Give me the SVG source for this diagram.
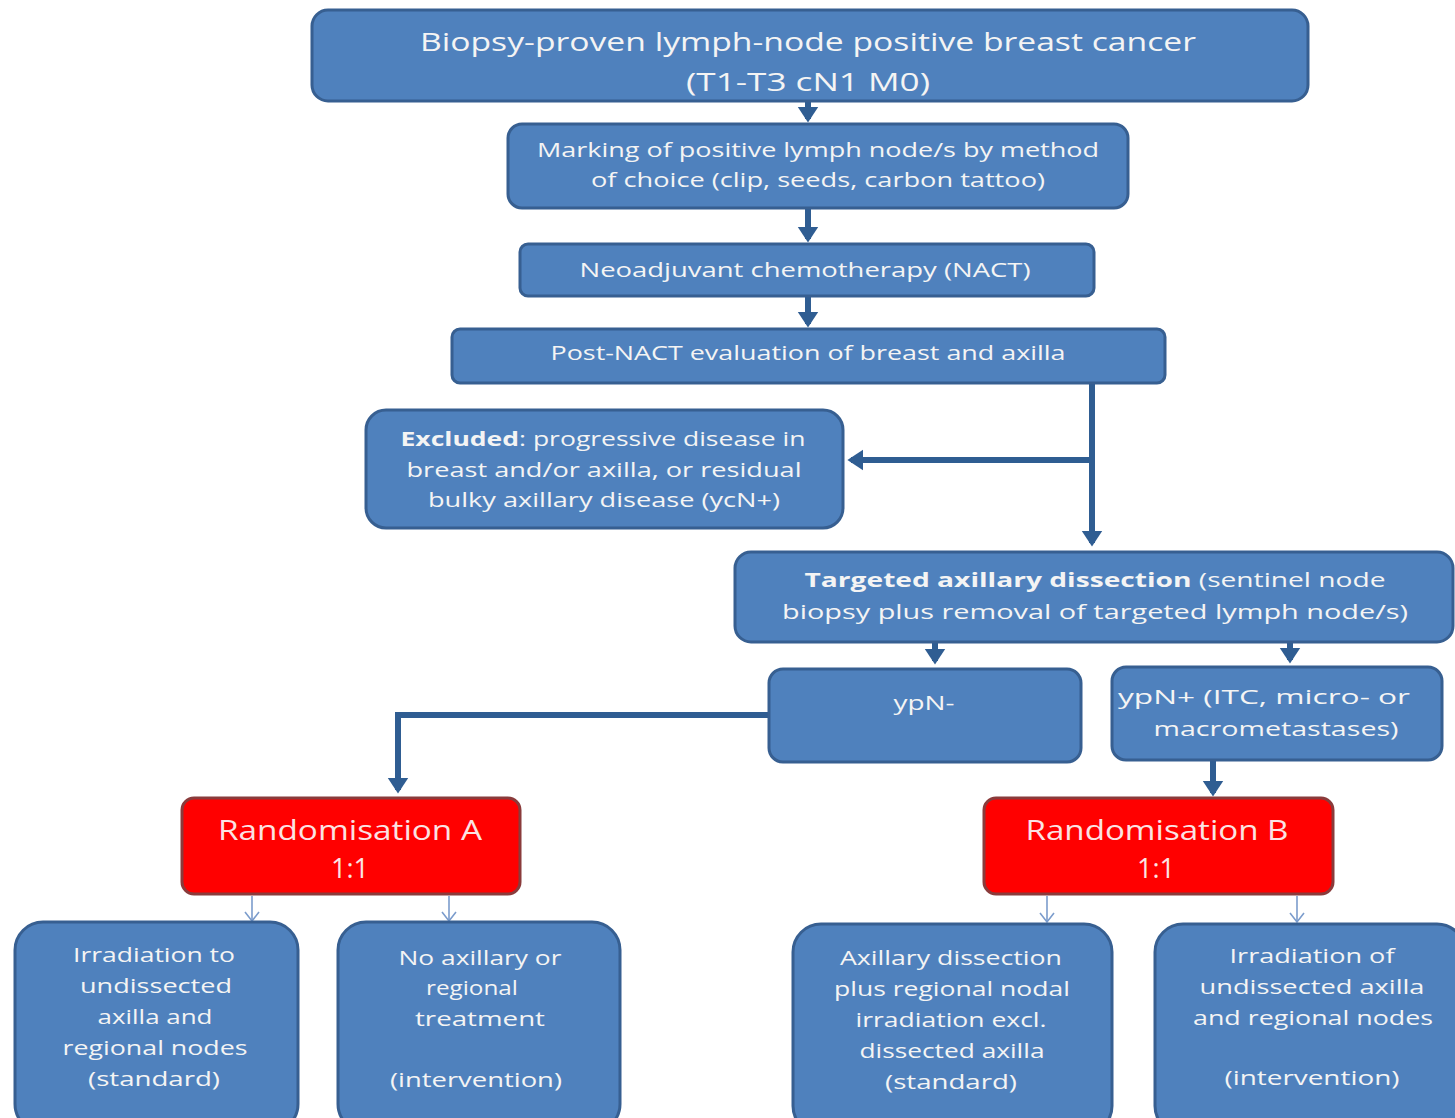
<svg xmlns="http://www.w3.org/2000/svg" width="1455" height="1118" viewBox="0 0 1455 1118">
<style>
.box{fill:#4f81bd;stroke:#375f91;stroke-width:3}
.red{fill:#ff0000;stroke:#8a3b3b;stroke-width:3}
text{font-family:"Open Sans","Liberation Sans",sans-serif;fill:#f4f4f4;text-anchor:middle}
.t26{font-size:26px}
.t20{font-size:20px}
.rt{font-size:27px;fill:#fbe3e3}
.b{font-weight:bold}
.con{fill:none;stroke:#2f5d92;stroke-width:6}
.thin{fill:none;stroke:#7b9ccc;stroke-width:1.6}
</style>
<defs>
<marker id="ah" markerWidth="4" markerHeight="4" refX="2" refY="2" orient="auto" markerUnits="strokeWidth">
<path d="M0,0.3 L2.6,2 L0,3.7 Z" fill="#2f5d92"/>
</marker>
<marker id="open" markerWidth="12" markerHeight="16" refX="10" refY="8" orient="auto" markerUnits="userSpaceOnUse">
<path d="M1,1 L10,8 L1,15" fill="none" stroke="#7b9ccc" stroke-width="1.6"/>
</marker>
<clipPath id="c1"><rect x="312" y="10" width="996" height="91" rx="16"/></clipPath>
</defs>
<rect width="1455" height="1118" fill="#ffffff"/>

<g id="connectors">
<line class="con" x1="808" y1="102" x2="808" y2="119" marker-end="url(#ah)"/>
<line class="con" x1="808" y1="208" x2="808" y2="239" marker-end="url(#ah)"/>
<line class="con" x1="808" y1="296" x2="808" y2="324" marker-end="url(#ah)"/>
<line class="con" x1="1092" y1="383" x2="1092" y2="543" marker-end="url(#ah)"/>
<line class="con" x1="1092" y1="460" x2="851" y2="460" marker-end="url(#ah)"/>
<line class="con" x1="935" y1="642" x2="935" y2="661" marker-end="url(#ah)"/>
<line class="con" x1="1290" y1="642" x2="1290" y2="660" marker-end="url(#ah)"/>
<polyline class="con" points="769,715 398,715 398,790" marker-end="url(#ah)"/>
<line class="con" x1="1213" y1="760" x2="1213" y2="793" marker-end="url(#ah)"/>
<line class="thin" x1="252" y1="896" x2="252" y2="921" marker-end="url(#open)"/>
<line class="thin" x1="449" y1="896" x2="449" y2="921" marker-end="url(#open)"/>
<line class="thin" x1="1047" y1="896" x2="1047" y2="922" marker-end="url(#open)"/>
<line class="thin" x1="1297" y1="896" x2="1297" y2="922" marker-end="url(#open)"/>
</g>

<g id="n-top">
<rect class="box" x="312" y="10" width="996" height="91" rx="16"/>
<g clip-path="url(#c1)">
<text class="t26" x="808" y="51" textLength="776" lengthAdjust="spacingAndGlyphs">Biopsy-proven lymph-node positive breast cancer</text>
<text class="t26" x="808" y="91" textLength="244" lengthAdjust="spacingAndGlyphs">(T1-T3 cN1 M0)</text>
</g>
</g>

<g id="n-marking">
<rect class="box" x="508" y="124" width="620" height="84" rx="14"/>
<text class="t20" x="818" y="157" textLength="562" lengthAdjust="spacingAndGlyphs">Marking of positive lymph node/s by method</text>
<text class="t20" x="818" y="187" textLength="454" lengthAdjust="spacingAndGlyphs">of choice (clip, seeds, carbon tattoo)</text>
</g>

<g id="n-nact">
<rect class="box" x="520" y="244" width="574" height="52" rx="8"/>
<text class="t20" x="805" y="277" textLength="451" lengthAdjust="spacingAndGlyphs">Neoadjuvant chemotherapy (NACT)</text>
</g>

<g id="n-post">
<rect class="box" x="452" y="329" width="713" height="54" rx="8"/>
<text class="t20" x="808" y="360" textLength="515" lengthAdjust="spacingAndGlyphs">Post-NACT evaluation of breast and axilla</text>
</g>

<g id="n-excluded">
<rect class="box" x="366" y="410" width="477" height="118" rx="20"/>
<text class="t20" x="603" y="446" textLength="405" lengthAdjust="spacingAndGlyphs"><tspan class="b">Excluded</tspan>: progressive disease in</text>
<text class="t20" x="604" y="477" textLength="395" lengthAdjust="spacingAndGlyphs">breast and/or axilla,  or residual</text>
<text class="t20" x="604" y="507" textLength="352" lengthAdjust="spacingAndGlyphs">bulky axillary disease (ycN+)</text>
</g>

<g id="n-targeted">
<rect class="box" x="735" y="552" width="718" height="90" rx="16"/>
<text class="t20" x="1095" y="587" textLength="581" lengthAdjust="spacingAndGlyphs"><tspan class="b">Targeted axillary dissection</tspan> (sentinel node</text>
<text class="t20" x="1095" y="619" textLength="626" lengthAdjust="spacingAndGlyphs">biopsy plus removal of targeted lymph node/s)</text>
</g>

<g id="n-ypneg">
<rect class="box" x="769" y="669" width="312" height="93" rx="14"/>
<text class="t20" x="924" y="710" textLength="61" lengthAdjust="spacingAndGlyphs">ypN-</text>
</g>

<g id="n-yppos">
<rect class="box" x="1112" y="667" width="330" height="93" rx="14"/>
<text class="t20" x="1264" y="704" textLength="292" lengthAdjust="spacingAndGlyphs">ypN+ (ITC, micro- or</text>
<text class="t20" x="1276" y="736" textLength="245" lengthAdjust="spacingAndGlyphs">macrometastases)</text>
</g>

<g id="n-randA">
<rect class="red" x="182" y="798" width="338" height="96" rx="12"/>
<text class="rt" x="350" y="840" textLength="264" lengthAdjust="spacingAndGlyphs">Randomisation A</text>
<text class="rt" x="350" y="878">1:1</text>
</g>

<g id="n-randB">
<rect class="red" x="984" y="798" width="349" height="96" rx="12"/>
<text class="rt" x="1157" y="840" textLength="263" lengthAdjust="spacingAndGlyphs">Randomisation B</text>
<text class="rt" x="1156" y="878">1:1</text>
</g>

<g id="n-a1">
<rect class="box" x="15" y="922" width="283" height="210" rx="28"/>
<text class="t20" x="154" y="962" textLength="162" lengthAdjust="spacingAndGlyphs">Irradiation to</text>
<text class="t20" x="156" y="993" textLength="152" lengthAdjust="spacingAndGlyphs">undissected</text>
<text class="t20" x="155" y="1024" textLength="115" lengthAdjust="spacingAndGlyphs">axilla and</text>
<text class="t20" x="155" y="1055" textLength="185" lengthAdjust="spacingAndGlyphs">regional nodes</text>
<text class="t20" x="154" y="1086" textLength="132" lengthAdjust="spacingAndGlyphs">(standard)</text>
</g>

<g id="n-a2">
<rect class="box" x="338" y="922" width="282" height="210" rx="28"/>
<text class="t20" x="480" y="965" textLength="163" lengthAdjust="spacingAndGlyphs">No axillary or</text>
<text class="t20" x="472" y="995" textLength="92" lengthAdjust="spacingAndGlyphs">regional</text>
<text class="t20" x="480" y="1026" textLength="130" lengthAdjust="spacingAndGlyphs">treatment</text>
<text class="t20" x="476" y="1087" textLength="172" lengthAdjust="spacingAndGlyphs">(intervention)</text>
</g>

<g id="n-b1">
<rect class="box" x="793" y="924" width="319" height="210" rx="28"/>
<text class="t20" x="951" y="965" textLength="222" lengthAdjust="spacingAndGlyphs">Axillary dissection</text>
<text class="t20" x="952" y="996" textLength="236" lengthAdjust="spacingAndGlyphs">plus regional nodal</text>
<text class="t20" x="951" y="1027" textLength="191" lengthAdjust="spacingAndGlyphs">irradiation excl.</text>
<text class="t20" x="952" y="1058" textLength="185" lengthAdjust="spacingAndGlyphs">dissected axilla</text>
<text class="t20" x="951" y="1089" textLength="132" lengthAdjust="spacingAndGlyphs">(standard)</text>
</g>

<g id="n-b2">
<rect class="box" x="1155" y="924" width="310" height="210" rx="28"/>
<text class="t20" x="1312" y="963" textLength="165" lengthAdjust="spacingAndGlyphs">Irradiation of</text>
<text class="t20" x="1312" y="994" textLength="225" lengthAdjust="spacingAndGlyphs">undissected axilla</text>
<text class="t20" x="1313" y="1025" textLength="240" lengthAdjust="spacingAndGlyphs">and regional nodes</text>
<text class="t20" x="1312" y="1085" textLength="175" lengthAdjust="spacingAndGlyphs">(intervention)</text>
</g>
</svg>
